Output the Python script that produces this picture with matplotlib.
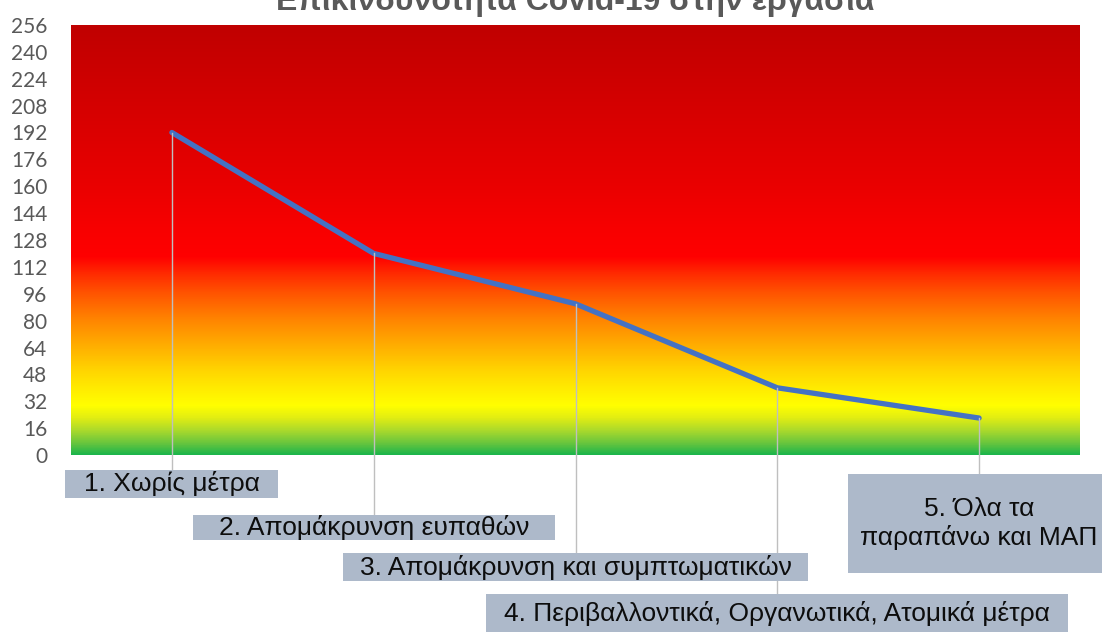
import numpy as np
import matplotlib
matplotlib.use("Agg")
import matplotlib.pyplot as plt
from matplotlib.colors import LinearSegmentedColormap
from matplotlib.patches import Rectangle
from matplotlib.lines import Line2D

# ---- data ----
title = "Επικινδυνότητα Covid-19 στην εργασία"
categories = ["1. Χωρίς μέτρα",
              "2. Απομάκρυνση ευπαθών",
              "3. Απομάκρυνση και συμπτωματικών",
              "4. Περιβαλλοντικά, Οργανωτικά, Ατομικά μέτρα",
              "5. Όλα τα\nπαραπάνω και ΜΑΠ"]
risk = [192, 120, 90, 40, 22]
yticks = list(range(0, 257, 16))

# ---- layout (figure pixels, from top) ----
W, H = 1102, 635
fig = plt.figure(figsize=(W / 100, H / 100), dpi=100)
left, right, top, bottom = 71, 1080, 25, 455
ax = fig.add_axes([left / W, 1 - bottom / H, (right - left) / W, (bottom - top) / H])

ymax = 256
ax.set_xlim(-0.5, len(risk) - 0.5)
ax.set_ylim(0, ymax)

# background gradient
stops = [(0, "#1DB54B"), (6, "#62C43F"), (14, "#A9D92C"), (22, "#E3EE12"),
         (29, "#FFFF00"), (40, "#FFEA00"), (50, "#FFD500"), (64, "#FFB000"),
         (80, "#FF8600"), (96, "#FF5500"), (108, "#FF2A00"), (118, "#FF0000"),
         (130, "#FA0000"), (160, "#EA0000"), (192, "#DC0000"), (224, "#CE0000"),
         (256, "#C00000")]
cmap = LinearSegmentedColormap.from_list("risk", [(v / 256, c) for v, c in stops])
grad = np.linspace(0, 1, 512).reshape(-1, 1)
ax.imshow(grad, cmap=cmap, aspect="auto", origin="lower",
          extent=(-0.5, len(risk) - 0.5, 0, ymax), zorder=0, interpolation="bilinear")

x = np.arange(len(risk))
ax.plot(x, risk, color="#4472C4", lw=3.8, solid_capstyle="round",
        solid_joinstyle="round", zorder=3)

for s in ax.spines.values():
    s.set_visible(False)
ax.set_xticks([])
ax.set_yticks(yticks)
ax.set_yticklabels([str(t) for t in yticks], fontfamily="Lato", fontsize=15, color="#595959")
ax.tick_params(axis="y", length=0, pad=17)

# title
fig.text(575 / W, 1 - 10 / H, title, ha="center", va="baseline",
         fontsize=23, fontweight="bold", color="#595959", fontfamily="Liberation Sans")

# label boxes: (top, height, width) in pixels
boxes = [(470, 28, 213), (515, 25, 362), (553, 28, 465), (594, 38, 582), (474, 99, 262)]
fig.canvas.draw()
for i, (cat, v) in enumerate(zip(categories, risk)):
    bt, bh, bw = boxes[i]
    px, py = ax.transData.transform((x[i], v))
    # leader line
    fig.add_artist(Line2D([px / W, px / W], [py / H, 1 - bt / H], transform=fig.transFigure,
                          color="#BFBFBF", lw=1.0, zorder=2))
    fig.add_artist(Rectangle(((px - bw / 2) / W, 1 - (bt + bh) / H), bw / W, bh / H,
                             transform=fig.transFigure, facecolor="#ADB9CA",
                             edgecolor="none", zorder=4))
    fig.text(px / W, 1 - (bt + bh / 2) / H, cat, ha="center", va="center",
             fontsize=19, color="#0D0D0D", fontfamily="Liberation Sans",
             linespacing=1.15, zorder=5)

fig.savefig("out.png", dpi=100)
